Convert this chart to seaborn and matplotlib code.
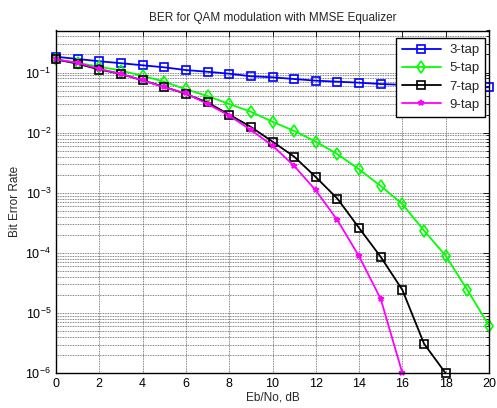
import numpy as np
import pandas as pd
import matplotlib
matplotlib.use("Agg")
import matplotlib.pyplot as plt
import seaborn as sns
from matplotlib.ticker import LogLocator, NullFormatter, FixedLocator

# Eb/No axis (dB)
ebno = list(range(0, 21))

# Simulated bit error rates for each MMSE equalizer length
ber_3tap = [0.183, 0.168, 0.154, 0.143, 0.132, 0.122, 0.110, 0.103, 0.0957, 0.0867,
            0.0834, 0.078, 0.0733, 0.0705, 0.0678, 0.0645, 0.0625, 0.061, 0.0595,
            0.058, 0.0569]
ber_5tap = [0.165, 0.145, 0.125, 0.108, 0.088, 0.0705, 0.0526, 0.0407, 0.030, 0.0223,
            0.0152, 0.0107, 0.0071, 0.0044, 0.00246, 0.0013, 0.00065, 0.000235,
            0.00009, 2.43e-5, 6.2e-6]
ber_7tap = [0.165, 0.14, 0.112, 0.095, 0.074, 0.058, 0.044, 0.0318, 0.020, 0.0125,
            0.0071, 0.004, 0.00183, 0.0008, 0.00026, 8.6e-5, 2.43e-5, 3.1e-6, 1.0e-6]
ber_9tap = [0.165, 0.145, 0.115, 0.095, 0.074, 0.057, 0.045, 0.030, 0.0192, 0.0111,
            0.0061, 0.0028, 0.0011, 0.00035, 8.8e-5, 1.72e-5, 1.0e-6]

labels = ["3-tap", "5-tap", "7-tap", "9-tap"]
title = "BER for QAM modulation with MMSE Equalizer"
xlabel = "Eb/No, dB"
ylabel = "Bit Error Rate"

sns.set_theme(style="white")
plt.rcParams["font.family"] = ["Liberation Sans", "DejaVu Sans"]
plt.rcParams["mathtext.fontset"] = "custom"
plt.rcParams["mathtext.rm"] = "Liberation Sans"
plt.rcParams["mathtext.it"] = "Liberation Sans"

fig = plt.figure(figsize=(4.97, 4.08), dpi=100)
ax = fig.add_axes([56 / 497, 1 - 373.3 / 408, 433 / 497, (373.3 - 30.5) / 408])

series = [ber_3tap, ber_5tap, ber_7tap, ber_9tap]
styles = [
    dict(color="#0000ff", marker="s", markersize=5.5, markerfacecolor="none"),
    dict(color="#00ff00", marker="d", markersize=6.5, markerfacecolor="none"),
    dict(color="#000000", marker="s", markersize=6, markerfacecolor="none"),
    dict(color="#ff00ff", marker="*", markersize=4),
]
for lab, vals, st in zip(labels, series, styles):
    df = pd.DataFrame({"ebno": ebno[:len(vals)], "ber": vals})
    sns.lineplot(data=df, x="ebno", y="ber", ax=ax, label=lab,
                 linewidth=1.3, markeredgewidth=1.2, clip_on=False,
                 markeredgecolor=st["color"], **st)

ax.set_yscale("log")
ax.set_xlim(0, 20)
ax.set_ylim(1e-6, 0.5)
ax.set_xticks(range(0, 21, 2))
ax.yaxis.set_major_locator(FixedLocator([1e-6, 1e-5, 1e-4, 1e-3, 1e-2, 1e-1]))
ax.yaxis.set_minor_locator(LogLocator(base=10, subs=np.arange(2, 10), numticks=20))
ax.yaxis.set_minor_formatter(NullFormatter())

ax.grid(True, which="major", axis="both", color="0.35", linewidth=0.6, linestyle=(0, (1, 1)))
ax.grid(True, which="minor", axis="y", color="0.35", linewidth=0.6, linestyle=(0, (1, 1)))
ax.set_axisbelow(True)

ax.tick_params(which="both", direction="in", top=True, right=True, colors="black",
               labelsize=9)
ax.tick_params(which="major", length=4, width=0.6)
ax.tick_params(which="minor", length=2, width=0.6)
for sp in ax.spines.values():
    sp.set_color("black")
    sp.set_linewidth(1.0)

ax.set_title(title, fontsize=8.5, pad=7)
ax.set_xlabel(xlabel, fontsize=8.5, labelpad=1)
ax.set_ylabel(ylabel, fontsize=8.5, labelpad=3)

leg = ax.legend(loc="upper right", bbox_to_anchor=(0.991, 0.978), borderaxespad=0,
                fancybox=False, framealpha=1, edgecolor="black", fontsize=9.5,
                handlelength=3.0, labelspacing=0.45, borderpad=0.45, handletextpad=0.6)
leg.get_frame().set_linewidth(1.0)
leg.set_zorder(10)

fig.savefig("out.png", dpi=100)
